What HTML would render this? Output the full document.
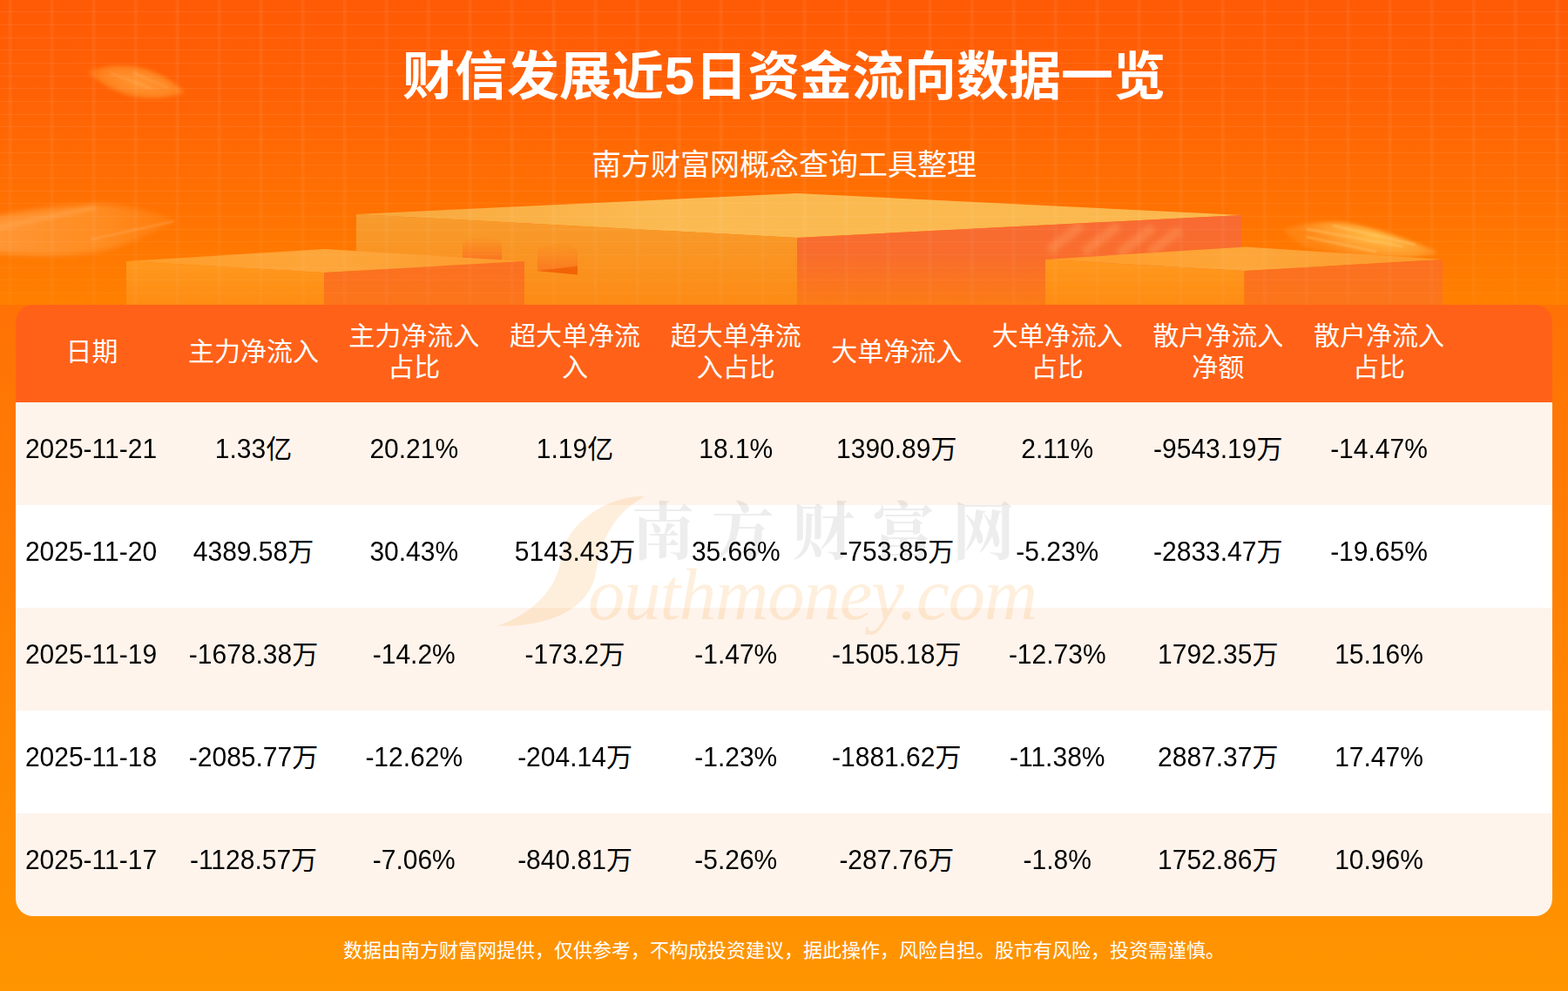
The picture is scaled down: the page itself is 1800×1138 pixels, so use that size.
<!DOCTYPE html>
<html lang="zh-CN">
<head>
<meta charset="utf-8">
<title>财信发展近5日资金流向数据一览</title>
<style>
html,body{margin:0;padding:0}
body{width:1800px;height:1138px;position:relative;overflow:hidden;font-family:"Liberation Sans","Noto Sans CJK SC",sans-serif;
  background:linear-gradient(180deg,#ff7206 350px,#ff9500 1138px)}
.hero{position:absolute;left:0;top:0;width:1800px;height:350px;overflow:hidden;
  background:linear-gradient(180deg,#ff5a05 0,#ff6105 30%,#ff8000 100%)}
.hero svg{position:absolute;left:0;top:0}
.hero:after{content:"";position:absolute;left:0;top:0;width:1800px;height:350px;
  background:repeating-linear-gradient(90deg,transparent 0,transparent 8.9px,rgba(255,255,255,.055) 10.4px,rgba(255,255,255,.055) 13px,transparent 14.5px,transparent 48px),
  repeating-linear-gradient(180deg,transparent 0,transparent 13.3px,rgba(255,255,255,.08) 13.3px,rgba(255,255,255,.08) 14.3px,transparent 14.3px,transparent 14.66px);
  -webkit-mask-image:linear-gradient(180deg,#000 0,#000 45%,rgba(0,0,0,.5) 100%);mask-image:linear-gradient(180deg,#000 0,#000 45%,rgba(0,0,0,.5) 100%)}
.title{position:absolute;left:0;top:58px;width:1800px;margin:0;text-align:center;color:#fff;font-size:60px;line-height:60px;font-weight:bold;white-space:nowrap}
.title .d{display:inline-block;width:36px;text-align:center;font-size:62px;position:relative;top:-1.5px}
.sub{position:absolute;left:0;top:172px;width:1800px;margin:0;text-align:center;color:#fff;font-size:34px;line-height:34px;white-space:nowrap}
.foot{position:absolute;left:0;top:1081px;width:1800px;margin:0;text-align:center;color:#fff;font-size:22px;line-height:22px;white-space:nowrap}
.tbl{position:absolute;left:18px;top:350px;width:1764px;height:702px;border-radius:20px;overflow:hidden;
  background:linear-gradient(180deg,#ff6118 0,#ff6118 112px,#fef4ec 112px,#fef4ec 230px,#fff 230px,#fff 348px,#fef4ec 348px,#fef4ec 466px,#fff 466px,#fff 584px,#fef4ec 584px)}
.tr{display:grid;grid-template-columns:181px 184px 184.5px 185px 184.5px 184.5px 184.5px 184.5px 185px 1fr;height:118px;position:relative;z-index:2}
.tr.th{height:112px;color:#fff}
.td{text-align:center;font-size:30px;line-height:118px;color:#000;white-space:nowrap;position:relative;top:-5px}
.th .td{color:#fff;line-height:36px;display:flex;align-items:center;justify-content:center;top:-2.5px}
.n{display:inline-block;line-height:1;transform:scaleY(1.055);transform-origin:50% 84.65%}
.hl{display:inline-block}
.wm{position:absolute;left:0;top:0;width:1764px;height:702px;z-index:1;pointer-events:none}
.wm svg{position:absolute;left:0;top:0}
.wmt{position:absolute;left:657px;top:282px;font:italic 85px/100px "Liberation Serif",serif;color:rgba(247,148,29,.15);letter-spacing:-1.25px;white-space:nowrap}
.tr .td:first-child{left:-4px}
.th .td:first-child{left:-3px}

</style>
</head>
<body>
<div class="hero">
<svg width="1800" height="350" viewBox="0 0 1800 350" aria-hidden="true">
<defs>
<linearGradient id="bt" x1="0" y1="0" x2="1" y2="0"><stop offset="0" stop-color="#f9a538"/><stop offset=".35" stop-color="#fbbb52"/><stop offset="1" stop-color="#fbb74c"/></linearGradient>
<linearGradient id="bl" x1="0" y1="0" x2="0" y2="1"><stop offset="0" stop-color="#f79c2e"/><stop offset="1" stop-color="#fd8b14"/></linearGradient>
<linearGradient id="br" x1="0" y1="0" x2="0" y2="1"><stop offset="0" stop-color="#f86a33"/><stop offset=".45" stop-color="#f96d2c"/><stop offset="1" stop-color="#fc7b15"/></linearGradient>
<linearGradient id="st" x1="0" y1="0" x2="1" y2="0"><stop offset="0" stop-color="#ff9c27"/><stop offset=".5" stop-color="#fda63a"/><stop offset="1" stop-color="#fd9a2c"/></linearGradient>
<linearGradient id="sl" x1="0" y1="0" x2="0" y2="1"><stop offset="0" stop-color="#ff981e"/><stop offset="1" stop-color="#ff8c12"/></linearGradient>
<linearGradient id="sr" x1="0" y1="0" x2="0" y2="1"><stop offset="0" stop-color="#fb7022"/><stop offset="1" stop-color="#fc7519"/></linearGradient>
<linearGradient id="ar" x1="0" y1="0" x2="0" y2="1"><stop offset="0" stop-color="#fb8a20" stop-opacity=".25"/><stop offset="1" stop-color="#fb7320"/></linearGradient>
<filter id="b1" x="-10%" y="-50%" width="120%" height="200%"><feGaussianBlur stdDeviation="0.9"/></filter>
<filter id="b2" x="-20%" y="-60%" width="140%" height="220%"><feGaussianBlur stdDeviation="2.2"/></filter>
<filter id="b3" x="-20%" y="-60%" width="140%" height="220%"><feGaussianBlur stdDeviation="3"/></filter>
<filter id="b4" x="-20%" y="-80%" width="140%" height="260%"><feGaussianBlur stdDeviation="5"/></filter>
<linearGradient id="sk" x1="0" y1="0" x2="1" y2="0"><stop offset="0" stop-color="#ffa838" stop-opacity="0"/><stop offset=".25" stop-color="#ffa838" stop-opacity=".85"/><stop offset=".7" stop-color="#ffb845" stop-opacity=".95"/><stop offset="1" stop-color="#ffb040" stop-opacity=".1"/></linearGradient>
<linearGradient id="sk2" x1="0" y1="0" x2="1" y2="0"><stop offset="0" stop-color="#ff9a3c" stop-opacity=".9"/><stop offset=".6" stop-color="#ff9228" stop-opacity=".8"/><stop offset="1" stop-color="#ff8c20" stop-opacity=".35"/></linearGradient>
<clipPath id="cbr"><polygon points="915,273 1425,247 1425,350 915,350"/></clipPath>
<radialGradient id="skd" gradientUnits="userSpaceOnUse" cx="1578" cy="272" r="95" gradientTransform="translate(1578 272) rotate(12) scale(1 .3) translate(-1578 -272)"><stop offset="0" stop-color="#ffbe48" stop-opacity=".98"/><stop offset=".55" stop-color="#ffa536" stop-opacity=".85"/><stop offset="1" stop-color="#ff9628" stop-opacity=".45"/></radialGradient>
<radialGradient id="ska" gradientUnits="userSpaceOnUse" cx="160" cy="94" r="60" gradientTransform="translate(160 94) scale(1 .35) translate(-160 -94)"><stop offset="0" stop-color="#ff9a36" stop-opacity=".95"/><stop offset=".7" stop-color="#ff8a24" stop-opacity=".85"/><stop offset="1" stop-color="#ff7e1a" stop-opacity=".5"/></radialGradient>
</defs>
<!-- back streaks -->
<g transform="rotate(12 156 94)">
<path d="M98,94 Q156,60 214,94 Q156,128 98,94 Z" fill="url(#ska)" filter="url(#b2)"/>
<g stroke="#ffb870" stroke-opacity=".3" stroke-width="2" filter="url(#b1)"><path d="M125,90 l50,8 M150,84 l44,9"/></g>
</g>
<path d="M-8,249 C40,240 90,233 125,235 C160,238 185,247 200,253.5 C185,262 160,276 130,285 C100,294 50,296 -8,290 Z" fill="url(#sk2)" filter="url(#b3)"/>
<path d="M104,275 L200,254" stroke="#ffc48c" stroke-opacity=".4" stroke-width="1.6" filter="url(#b1)"/>
<path d="M-5,262 L110,238" stroke="#ffb878" stroke-opacity=".3" stroke-width="5" filter="url(#b2)"/>
<!-- big block -->
<polygon points="409,246 915,222 1425,247 915,273" fill="url(#bt)"/>
<polygon points="409,246 915,273 915,350 409,350" fill="url(#bl)"/>
<polygon points="915,273 1425,247 1425,350 915,350" fill="url(#br)"/>
<g clip-path="url(#cbr)" filter="url(#b3)" stroke="#ffa566" stroke-opacity=".36" stroke-width="11">
<path d="M1204,288 l38,-30 M1244,290 l40,-31 M1284,292 l40,-31 M1320,290 l34,-26"/>
</g>
<!-- arches -->
<path d="M531,297 V281 A22.5,8 0 0 1 576,281 V299 Z" fill="url(#ar)"/>
<path d="M617,311 V289 A23,8.5 0 0 1 663,289 V315 Z" fill="url(#ar)"/>
<polygon points="617,311 663,305.5 663,315.5" fill="#f26305"/>
<!-- left small block -->
<polygon points="145,300 373,286 602,300 372,313" fill="url(#st)"/>
<polygon points="145,300 372,313 372,350 145,350" fill="url(#sl)"/>
<polygon points="372,313 602,300 602,350 372,350" fill="url(#sr)"/>
<!-- right small block -->
<polygon points="1200,298 1430,283.5 1656,298 1428.5,311" fill="url(#st)"/>
<polygon points="1200,298 1428.5,311 1428.5,350 1200,350" fill="url(#sl)"/>
<polygon points="1428.5,311 1656,298 1656,350 1428.5,350" fill="url(#sr)"/>
<!-- right streak -->
<path d="M1473,263 C1500,255 1530,254 1545,256 C1580,262 1620,276 1651,289.5 C1640,294 1620,296 1600,295 C1560,295 1520,290 1500,284 C1488,278 1478,270 1473,263 Z" fill="url(#skd)" filter="url(#b2)"/>
<g stroke="#ffd27a" stroke-opacity=".5" stroke-width="1.8" filter="url(#b1)"><path d="M1500,263 L1610,283 M1530,259 L1625,281 M1500,272 L1580,289"/></g>
</svg>

</div>
<h1 class="title">财信发展近<span class="d">5</span>日资金流向数据一览</h1>
<p class="sub">南方财富网概念查询工具整理</p>
<div class="tbl" role="table">
<div class="tr th" role="row"><div class="td" role="columnheader"><span class="hl">日期</span></div><div class="td" role="columnheader"><span class="hl">主力净流入</span></div><div class="td" role="columnheader"><span class="hl">主力净流入<br>占比</span></div><div class="td" role="columnheader"><span class="hl">超大单净流<br>入</span></div><div class="td" role="columnheader"><span class="hl">超大单净流<br>入占比</span></div><div class="td" role="columnheader"><span class="hl">大单净流入</span></div><div class="td" role="columnheader"><span class="hl">大单净流入<br>占比</span></div><div class="td" role="columnheader"><span class="hl">散户净流入<br>净额</span></div><div class="td" role="columnheader"><span class="hl">散户净流入<br>占比</span></div></div>
<div class="tr odd" role="row"><div class="td" role="cell"><span class="n">2025-11-21</span></div><div class="td" role="cell"><span class="n">1.33</span>亿</div><div class="td" role="cell"><span class="n">20.21%</span></div><div class="td" role="cell"><span class="n">1.19</span>亿</div><div class="td" role="cell"><span class="n">18.1%</span></div><div class="td" role="cell"><span class="n">1390.89</span>万</div><div class="td" role="cell"><span class="n">2.11%</span></div><div class="td" role="cell"><span class="n">-9543.19</span>万</div><div class="td" role="cell"><span class="n">-14.47%</span></div></div>
<div class="tr even" role="row"><div class="td" role="cell"><span class="n">2025-11-20</span></div><div class="td" role="cell"><span class="n">4389.58</span>万</div><div class="td" role="cell"><span class="n">30.43%</span></div><div class="td" role="cell"><span class="n">5143.43</span>万</div><div class="td" role="cell"><span class="n">35.66%</span></div><div class="td" role="cell"><span class="n">-753.85</span>万</div><div class="td" role="cell"><span class="n">-5.23%</span></div><div class="td" role="cell"><span class="n">-2833.47</span>万</div><div class="td" role="cell"><span class="n">-19.65%</span></div></div>
<div class="tr odd" role="row"><div class="td" role="cell"><span class="n">2025-11-19</span></div><div class="td" role="cell"><span class="n">-1678.38</span>万</div><div class="td" role="cell"><span class="n">-14.2%</span></div><div class="td" role="cell"><span class="n">-173.2</span>万</div><div class="td" role="cell"><span class="n">-1.47%</span></div><div class="td" role="cell"><span class="n">-1505.18</span>万</div><div class="td" role="cell"><span class="n">-12.73%</span></div><div class="td" role="cell"><span class="n">1792.35</span>万</div><div class="td" role="cell"><span class="n">15.16%</span></div></div>
<div class="tr even" role="row"><div class="td" role="cell"><span class="n">2025-11-18</span></div><div class="td" role="cell"><span class="n">-2085.77</span>万</div><div class="td" role="cell"><span class="n">-12.62%</span></div><div class="td" role="cell"><span class="n">-204.14</span>万</div><div class="td" role="cell"><span class="n">-1.23%</span></div><div class="td" role="cell"><span class="n">-1881.62</span>万</div><div class="td" role="cell"><span class="n">-11.38%</span></div><div class="td" role="cell"><span class="n">2887.37</span>万</div><div class="td" role="cell"><span class="n">17.47%</span></div></div>
<div class="tr odd" role="row"><div class="td" role="cell"><span class="n">2025-11-17</span></div><div class="td" role="cell"><span class="n">-1128.57</span>万</div><div class="td" role="cell"><span class="n">-7.06%</span></div><div class="td" role="cell"><span class="n">-840.81</span>万</div><div class="td" role="cell"><span class="n">-5.26%</span></div><div class="td" role="cell"><span class="n">-287.76</span>万</div><div class="td" role="cell"><span class="n">-1.8%</span></div><div class="td" role="cell"><span class="n">1752.86</span>万</div><div class="td" role="cell"><span class="n">10.96%</span></div></div>
<div class="wm" aria-hidden="true">
<svg width="1764" height="702" viewBox="18 350 1764 702">
<path fill="#f7941d" fill-opacity=".15" d="M739.7,570.2 C706.7,568.3 651.7,594 643.6,641.7 C641.4,671 615,704 571,718.7 C615,720.5 670,707.7 682.8,663.7 C688.3,634.3 695.7,594 739.7,570.2 Z"/>
<text x="725" y="636" font-size="72" font-weight="bold" letter-spacing="20" fill="#000" fill-opacity=".072" font-family="'Liberation Serif','Noto Serif CJK SC',serif">南方财富网</text>
</svg>
<span class="wmt">outhmoney.com</span>
</div>
</div>
<p class="foot">数据由南方财富网提供，仅供参考，不构成投资建议，据此操作，风险自担。股市有风险，投资需谨慎。</p>
</body>
</html>
